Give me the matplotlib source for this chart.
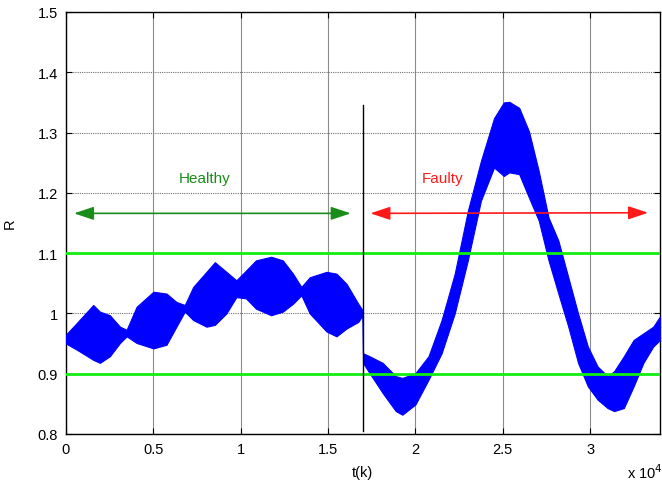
import matplotlib
matplotlib.use("Agg")
import matplotlib.pyplot as plt
from matplotlib.patches import FancyArrowPatch

plt.rcParams['font.family'] = ['Liberation Sans', 'DejaVu Sans']

# Envelope of the oscillating signal R(t)
t_pts = [0, 610, 1560, 1940, 2510, 3090, 3470, 4040, 5000, 5750, 6320, 6800,
         7280, 8040, 8520, 9180, 9750, 10300, 10870, 11740, 12410, 12990,
         13470, 13950, 14910, 15480, 16060, 16730, 16980, 17000, 17375,
         18125, 18875, 19250, 20000, 20750, 21500, 22250, 23000, 23750,
         24500, 25060, 25370, 25940, 26500, 27060, 27620, 28180, 28750,
         29310, 29870, 30430, 31000, 31370, 31930, 32490, 33050, 33610, 34000]
r_upper = [0.965, 0.984, 1.014, 1.003, 0.997, 0.978, 0.973, 1.011, 1.036, 1.033,
           1.019, 1.014, 1.044, 1.069, 1.085, 1.069, 1.055, 1.071, 1.088, 1.094,
           1.088, 1.066, 1.044, 1.060, 1.069, 1.066, 1.049, 1.016, 1.005, 0.934,
           0.929, 0.918, 0.896, 0.893, 0.901, 0.929, 0.989, 1.066, 1.170, 1.253,
           1.324, 1.350, 1.351, 1.341, 1.302, 1.236, 1.159, 1.121, 1.060, 1.000,
           0.945, 0.912, 0.896, 0.904, 0.929, 0.956, 0.967, 0.978, 0.995]
r_lower = [0.950, 0.940, 0.923, 0.918, 0.929, 0.951, 0.962, 0.951, 0.942, 0.948,
           0.978, 1.003, 0.989, 0.978, 0.981, 1.000, 1.027, 1.025, 1.008, 0.997,
           1.003, 1.016, 1.030, 1.000, 0.970, 0.962, 0.975, 0.986, 0.997, 0.918,
           0.901, 0.868, 0.838, 0.832, 0.849, 0.890, 0.934, 1.000, 1.088, 1.187,
           1.242, 1.228, 1.234, 1.231, 1.192, 1.154, 1.088, 1.033, 0.978, 0.918,
           0.879, 0.857, 0.843, 0.838, 0.843, 0.879, 0.918, 0.945, 0.956]

thresholds = [0.9, 1.1]
fault_time = 17000
xticks = [0, 5000, 10000, 15000, 20000, 25000, 30000]
xtick_labels = ['0', '0.5', '1', '1.5', '2', '2.5', '3']
yticks = [0.8, 0.9, 1.0, 1.1, 1.2, 1.3, 1.4, 1.5]
ytick_labels = ['0.8', '0.9', '1', '1.1', '1.2', '1.3', '1.4', '1.5']

fig = plt.figure(figsize=(6.62, 4.85), dpi=100)
ax = fig.add_axes([66/662, 1-435/485, (660-66)/662, (435-13)/485])

ax.fill_between(t_pts, r_lower, r_upper, color='#0000ff', lw=0.8, edgecolor='#0000ff', zorder=3)

for th in thresholds:
    ax.axhline(th, color='#11ee11', lw=2, zorder=4)

ax.plot([fault_time, fault_time], [0.805, 1.345], color='black', lw=1, zorder=5)

astyle = '<|-|>,head_length=12,head_width=4'
arr_h = FancyArrowPatch((456, 1.166), (16300, 1.166), arrowstyle=astyle,
                        color='#1a8c1a', lw=1.2, mutation_scale=1, zorder=6,
                        shrinkA=0, shrinkB=0)
ax.add_patch(arr_h)
arr_f = FancyArrowPatch((17420, 1.166), (33320, 1.167), arrowstyle=astyle,
                        color='#ff1a1a', lw=1.2, mutation_scale=1, zorder=6,
                        shrinkA=0, shrinkB=0)
ax.add_patch(arr_f)
ax.text(7960, 1.224, 'Healthy', color='#1a8c1a', fontsize=11, ha='center', va='center')
ax.text(21540, 1.224, 'Faulty', color='#ff1a1a', fontsize=11, ha='center', va='center')

ax.set_xlim(0, 34000)
ax.set_ylim(0.8, 1.5)
ax.set_xticks(xticks)
ax.set_xticklabels(xtick_labels)
ax.set_yticks(yticks)
ax.set_yticklabels(ytick_labels)
ax.tick_params(direction='in', length=4, width=0.8, top=True, right=True,
               labelsize=10.5, pad=6)
ax.xaxis.grid(True, color='#8c8c8c', lw=0.8, ls='-', zorder=0)
ax.yaxis.grid(True, color='#707070', lw=0.8, ls=(0, (1, 1)), zorder=0)
ax.set_axisbelow(True)
for s in ax.spines.values():
    s.set_linewidth(1.0)

ax.set_xlabel('t(k)', fontsize=10.5)
ax.xaxis.set_label_coords((362-66)/594, -(466-435)/422)
ax.set_ylabel('R', fontsize=10.5)
ax.yaxis.set_label_coords(-(66-17)/594, 0.5)
fig.text(627/662, 1-473/485, r'x 10$^4$', fontsize=10.5, ha='left', va='center')

fig.savefig('out.png', dpi=100)
